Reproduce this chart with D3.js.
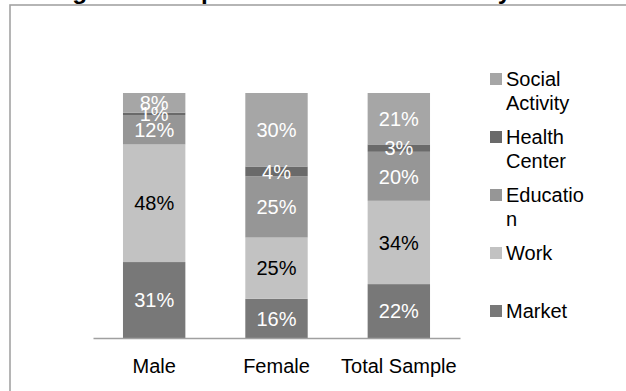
<!DOCTYPE html>
<html>
<head>
<meta charset="utf-8">
<script src="https://cdn.jsdelivr.net/npm/d3@7"></script>
<style>
  html, body { margin: 0; padding: 0; background: #fff; }
  svg { display: block; font-family: "Liberation Sans", Arial, sans-serif; }
</style>
</head>
<body>
<svg id="chart" width="626" height="391"></svg>
<script>
// Travel purpose shares (%) by group
const categories = ["Male", "Female", "Total Sample"];
const seriesNames = ["Market", "Work", "Education", "Health Center", "Social Activity"];
const market        = [31, 16, 22];
const work          = [48, 25, 34];
const education     = [12, 25, 20];
const healthCenter  = [1, 4, 3];
const socialActivity = [8, 30, 21];
const legendLines = {
  "Social Activity": ["Social", "Activity"],
  "Health Center": ["Health", "Center"],
  "Education": ["Educatio", "n"],
  "Work": ["Work"],
  "Market": ["Market"]
};
const title = "Figure 3: Purpose of Travel in the Study Area";

const seriesValues = [market, work, education, healthCenter, socialActivity];
const colors = {
  "Market": "#787878",
  "Work": "#c2c2c2",
  "Education": "#969696",
  "Health Center": "#6a6a6a",
  "Social Activity": "#a6a6a6"
};
const labelColors = {
  "Market": "#ffffff",
  "Work": "#000000",
  "Education": "#ffffff",
  "Health Center": "#ffffff",
  "Social Activity": "#ffffff"
};

const rows = categories.map((c, i) => {
  const r = { category: c };
  seriesNames.forEach((s, k) => { r[s] = seriesValues[k][i]; });
  return r;
});

const svg = d3.select("#chart");

// outer frame
svg.append("rect")
  .attr("x", 10).attr("y", 5)
  .attr("width", 640).attr("height", 400)
  .attr("fill", "#fff")
  .attr("stroke", "#a3a3a3")
  .attr("stroke-width", 1.6);

// title (sits above the frame, only its descenders reach into view)
svg.append("text")
  .attr("x", 311).attr("y", -1.2)
  .attr("text-anchor", "middle")
  .attr("font-size", 24.4)
  .attr("font-weight", "bold")
  .attr("fill", "#000")
  .text(title);

const x = d3.scaleBand()
  .domain(categories)
  .range([93, 460])
  .paddingInner(0.49)
  .paddingOuter(0.245);

const y = d3.scaleLinear().domain([0, 100]).range([338, 93]);

const stack = d3.stack().keys(seriesNames);
const stacked = stack(rows);

const layers = svg.append("g").selectAll("g")
  .data(stacked)
  .join("g")
  .attr("fill", d => colors[d.key]);

layers.selectAll("rect")
  .data(d => d)
  .join("rect")
  .attr("x", d => x(d.data.category))
  .attr("width", x.bandwidth())
  .attr("y", d => y(d[1]))
  .attr("height", d => y(d[0]) - y(d[1]));

// value labels
const labels = svg.append("g");
stacked.forEach(layer => {
  labels.selectAll(null)
    .data(layer)
    .join("text")
    .attr("x", d => x(d.data.category) + x.bandwidth() / 2)
    .attr("y", d => (y(d[0]) + y(d[1])) / 2)
    .attr("dy", "0.36em")
    .attr("text-anchor", "middle")
    .attr("font-size", 20)
    .attr("fill", labelColors[layer.key])
    .text(d => (d[1] - d[0]) + "%");
});

// x axis
const xAxis = svg.append("g")
  .attr("transform", "translate(0,338)")
  .call(d3.axisBottom(x).tickSize(0).tickSizeOuter(0).tickPadding(21));
xAxis.select(".domain").attr("stroke", "#a0a0a0").attr("stroke-width", 1.6);
xAxis.selectAll("text")
  .attr("font-size", 20)
  .attr("font-family", "\"Liberation Sans\", Arial, sans-serif")
  .attr("fill", "#000");

// legend
const legendOrder = seriesNames.slice().reverse();
const legend = svg.append("g").attr("transform", "translate(490,0)");
legendOrder.forEach((name, i) => {
  const cy = 79 + i * 58;
  legend.append("rect")
    .attr("x", 0).attr("y", cy - 6)
    .attr("width", 12).attr("height", 12)
    .attr("fill", colors[name]);
  const t = legend.append("text")
    .attr("x", 16).attr("y", cy)
    .attr("font-size", 20)
    .attr("fill", "#000");
  legendLines[name].forEach((line, j) => {
    t.append("tspan")
      .attr("x", 16)
      .attr("dy", j === 0 ? "0.36em" : 24)
      .text(line);
  });
});
</script>
</body>
</html>
